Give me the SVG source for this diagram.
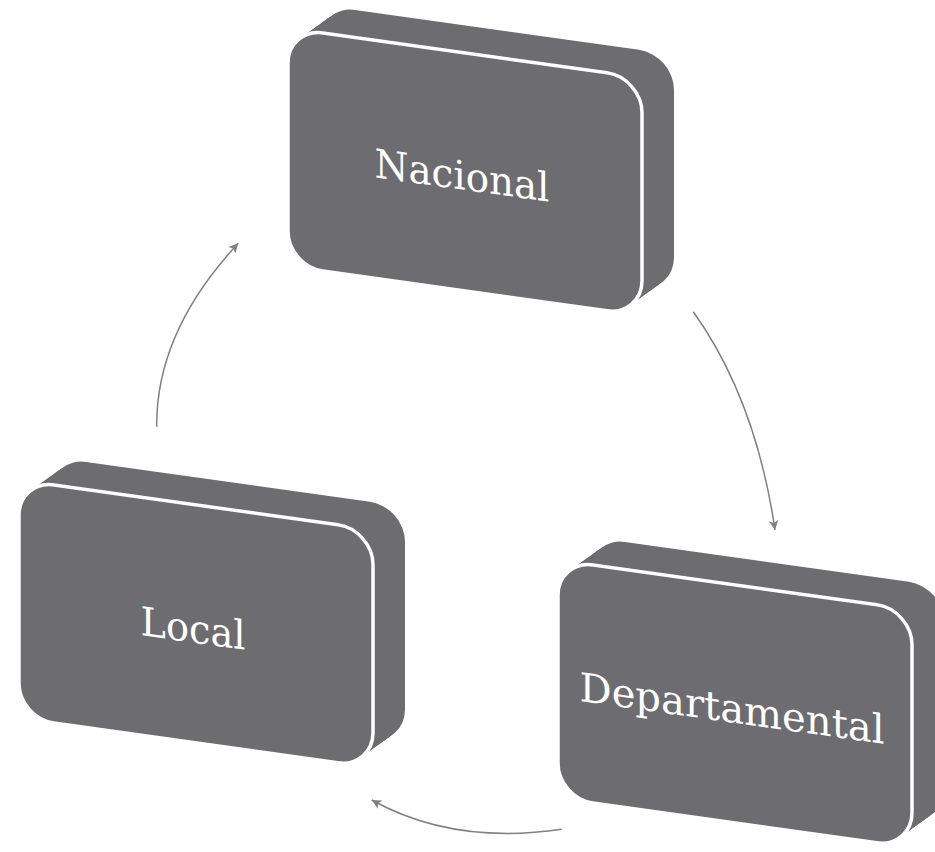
<svg xmlns="http://www.w3.org/2000/svg" xmlns:xlink="http://www.w3.org/1999/xlink" width="935" height="852" viewBox="0 0 935 852">
  <style>
    .box { fill: #6d6c71; }
    .front { fill: #6d6c71; stroke: #ffffff; stroke-width: 3.5; }
    .lbl { font-family: "DejaVu Serif", "Liberation Serif", serif; font-size: 40px; fill: #ffffff; text-anchor: middle; }
    .conn { fill: none; stroke: #808080; stroke-width: 1.5; }
  </style>
  <defs>
    <rect id="face" width="354" height="238" rx="35" ry="35"/>
    <g id="side">
      <use xlink:href="#face" href="#face" transform="translate(3.2,-2.75)"/>
      <use xlink:href="#face" href="#face" transform="translate(6.4,-5.5)"/>
      <use xlink:href="#face" href="#face" transform="translate(9.6,-8.25)"/>
      <use xlink:href="#face" href="#face" transform="translate(12.8,-11)"/>
      <use xlink:href="#face" href="#face" transform="translate(16,-13.75)"/>
      <use xlink:href="#face" href="#face" transform="translate(19.2,-16.5)"/>
      <use xlink:href="#face" href="#face" transform="translate(22.4,-19.25)"/>
      <use xlink:href="#face" href="#face" transform="translate(25.6,-22)"/>
      <use xlink:href="#face" href="#face" transform="translate(28.8,-24.75)"/>
      <use xlink:href="#face" href="#face" transform="translate(32,-27.5)"/>
    </g>
    <marker id="arrow" markerUnits="userSpaceOnUse" markerWidth="12" markerHeight="12" viewBox="0 0 10 10" refX="9" refY="5" orient="auto">
      <path d="M1,1 L9,5 L1,9 L3,5 Z" fill="#808080"/>
    </marker>
  </defs>

  <g id="connectors">
    <path class="conn" d="M156.7,426.7 Q155.9,331.6 238.3,243.3" marker-end="url(#arrow)"/>
    <path class="conn" d="M693.3,311.7 Q755.8,399.1 775,530" marker-end="url(#arrow)"/>
    <path class="conn" d="M561.7,829.3 Q453.3,845.3 371.7,800" marker-end="url(#arrow)"/>
  </g>

  <g id="node-nacional" transform="translate(288,28) skewY(8)">
    <use class="box" xlink:href="#side" href="#side"/>
    <use class="front" xlink:href="#face" href="#face"/>
    <text class="lbl" x="174" y="137" textLength="175" lengthAdjust="spacingAndGlyphs">Nacional</text>
  </g>

  <g id="node-local" transform="translate(19,480) skewY(8)">
    <use class="box" xlink:href="#side" href="#side"/>
    <use class="front" xlink:href="#face" href="#face"/>
    <text class="lbl" x="174" y="138" textLength="105" lengthAdjust="spacingAndGlyphs">Local</text>
  </g>

  <g id="node-departamental" transform="translate(558,560) skewY(8)">
    <use class="box" xlink:href="#side" href="#side"/>
    <use class="front" xlink:href="#face" href="#face"/>
    <text class="lbl" x="174" y="138" textLength="305" lengthAdjust="spacingAndGlyphs">Departamental</text>
  </g>
</svg>
